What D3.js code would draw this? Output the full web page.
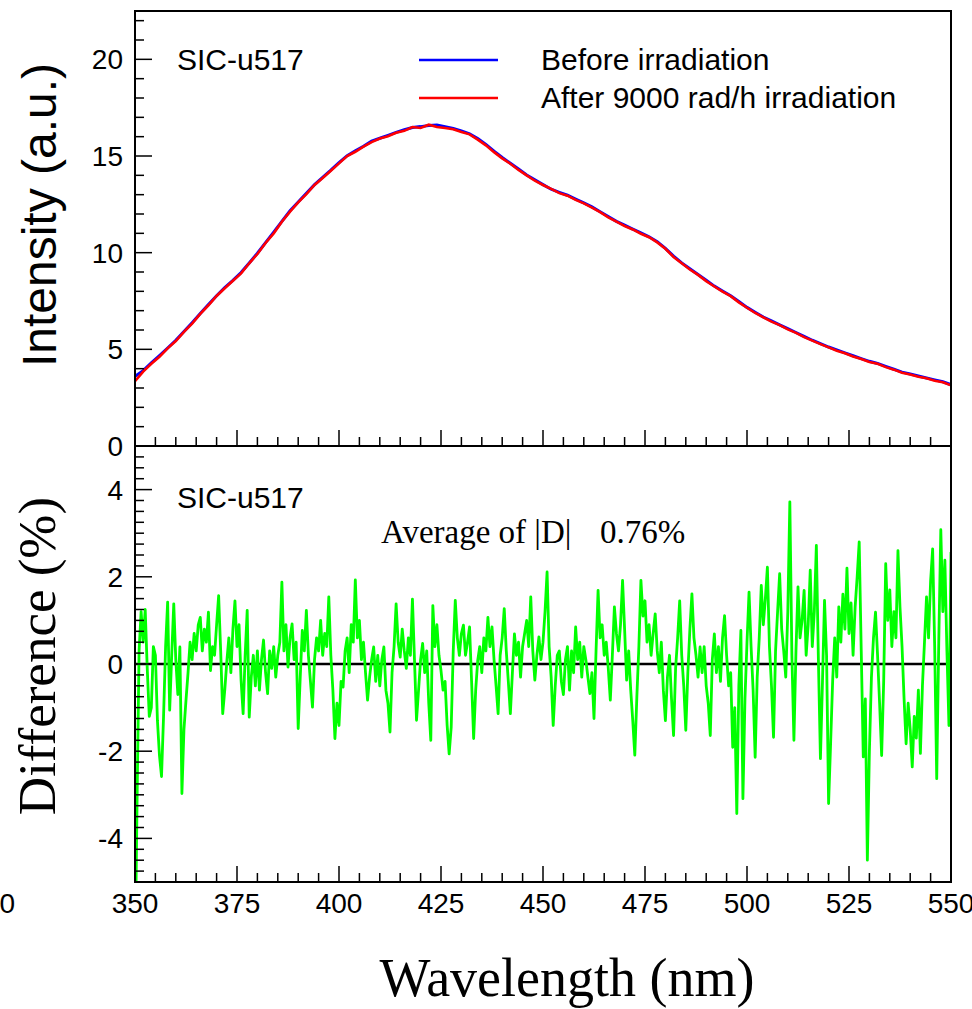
<!DOCTYPE html>
<html>
<head>
<meta charset="utf-8">
<script src="https://cdn.jsdelivr.net/npm/d3@7"></script>
<style>
  body { margin: 0; background: #fff; }
  svg { display: block; }
  .sans { font-family: "Liberation Sans", Arial, sans-serif; }
  .serif { font-family: "Liberation Serif", "Times New Roman", serif; }
</style>
</head>
<body>
<div id="chart"></div>
<script>
// spectra sampled every 2 nm from 350 to 550
const specStart = 350, specStep = 2;
const beforeIrr = [3.6, 3.9, 4.3, 4.68, 5.07, 5.47, 5.92, 6.38, 6.85, 7.32,
  7.77, 8.2, 8.57, 8.97, 9.47, 9.97, 10.52, 11.06, 11.62, 12.17,
  12.62, 13.07, 13.52, 13.9, 14.27, 14.66, 15.02, 15.27, 15.5, 15.77,
  15.92, 16.07, 16.22, 16.36, 16.47, 16.52, 16.58, 16.6, 16.52, 16.42,
  16.3, 16.15, 15.9, 15.6, 15.25, 14.92, 14.62, 14.33, 14.02, 13.77,
  13.52, 13.28, 13.12, 12.97, 12.77, 12.57, 12.37, 12.12, 11.87, 11.62,
  11.42, 11.22, 11.02, 10.82, 10.57, 10.22, 9.82, 9.47, 9.17, 8.87,
  8.57, 8.27, 8.02, 7.77, 7.47, 7.17, 6.92, 6.67, 6.47, 6.27,
  6.07, 5.87, 5.67, 5.47, 5.3, 5.12, 4.97, 4.82, 4.67, 4.52,
  4.38, 4.27, 4.12, 3.97, 3.82, 3.72, 3.62, 3.52, 3.42, 3.32, 3.17];
const afterIrr = [3.35, 3.85, 4.25, 4.62, 5.05, 5.43, 5.9, 6.33, 6.83, 7.28,
  7.76, 8.16, 8.55, 8.93, 9.45, 9.93, 10.5, 11.0, 11.6, 12.12,
  12.6, 13.03, 13.5, 13.86, 14.24, 14.62, 15.0, 15.22, 15.48, 15.72,
  15.9, 16.02, 16.2, 16.3, 16.5, 16.45, 16.62, 16.5, 16.45, 16.38,
  16.24, 16.12, 15.85, 15.55, 15.2, 14.88, 14.6, 14.28, 14.0, 13.72,
  13.5, 13.3, 13.08, 12.95, 12.73, 12.55, 12.33, 12.1, 11.83, 11.6,
  11.38, 11.2, 10.98, 10.8, 10.53, 10.2, 9.78, 9.45, 9.13, 8.85,
  8.53, 8.25, 7.98, 7.75, 7.43, 7.15, 6.88, 6.65, 6.43, 6.25,
  6.03, 5.85, 5.63, 5.45, 5.27, 5.1, 4.93, 4.8, 4.63, 4.5,
  4.35, 4.25, 4.08, 3.95, 3.79, 3.7, 3.58, 3.5, 3.38, 3.3, 3.14];

// relative difference (%) sampled every 0.5 nm from 350 to 550
const diffStart = 350, diffStep = 0.5;
const diffPct = [
  -7.0, -3.2, 0.3, 1.2, 0.5, 1.25, -0.1, -1.2, -1.0, 0.4,
  0.2, -1.3, -2.1, -2.58, -1.2, 0.4, 1.42, -1.06, 0.2, 1.38,
  0.1, -0.7, 0.39, -2.97, -1.5, -0.83, -0.2, 0.5, 0.1, 0.7,
  0.3, 0.9, 1.07, 0.3, 0.8, 0.5, 1.19, -0.15, 0.4, 0.2,
  0.9, 1.57, 0.3, -1.14, -0.6, 0.05, 0.6, -0.2, 0.8, 1.45,
  0.4, 0.9, -0.37, -1.14, 0.2, 1.23, -1.22, -0.3, 0.2, -0.5,
  0.3, -0.6, 0.1, 0.55, -0.2, -0.68, 0.3, -0.1, 0.4, -0.3,
  0.2, 0.5, 1.88, 0.3, 0.9, -0.07, 0.6, 0.92, 0.1, 0.5,
  -1.48, -0.3, 0.77, 0.3, 1.23, 0.2, -0.4, -0.99, 0.1, 0.6,
  0.3, 1.0, 0.2, 0.7, 0.4, 1.54, 0.2, -0.6, -1.71, -0.9,
  -1.41, -0.4, -0.53, 0.3, 0.6, -0.2, 0.9, 0.5, 1.93, 0.6,
  1.0, 0.1, 0.5, -0.2, -0.83, -0.3, 0.1, 0.39, -0.4, 0.2,
  -0.5, 0.1, 0.39, -0.6, -0.9, -1.56, -0.2, 0.4, 1.38, 0.5,
  0.16, 0.8, 0.3, -0.1, 0.6, 0.2, 1.49, 0.1, -1.29, -0.6,
  0.1, 0.47, -0.2, 0.3, -0.9, -1.75, 1.34, 0.4, 0.9, 0.2,
  -0.15, -0.6, -0.4, -1.4, -2.06, -1.45, 0.3, 1.46, 0.6, 0.2,
  0.7, 0.89, 0.2, 0.5, 0.85, -0.4, -1.71, -0.6, 0.08, 0.4,
  -0.2, 0.6, 0.3, 1.07, 0.4, 0.85, 0.1, -0.5, -1.14, 0.2,
  0.6, 1.27, 0.3, -0.4, -1.14, -0.2, 0.69, 0.2, 0.5, -0.3,
  0.4, 0.7, 1.0, 0.4, 1.54, 0.3, -0.37, 0.2, 0.62, 0.1,
  0.5, 1.2, 2.11, 0.4, -0.3, -1.41, -0.5, 0.2, 0.3, -0.4,
  -0.7, 0.1, 0.4, -0.6, 0.3, -0.2, 0.85, 0.1, 0.5, -0.3,
  0.4, 0.1, -0.3, -0.68, -0.2, -1.25, 0.3, 1.69, 0.6, 0.9,
  0.2, 0.5, -0.1, -0.83, 0.2, 1.31, 0.7, 0.3, 0.9, 1.92,
  0.8, -0.37, 0.3, -0.6, -1.3, -2.09, -0.76, 0.4, 1.92, 1.1,
  1.45, 0.5, 0.9, 0.2, 0.7, 1.15, 0.3, -0.2, 0.5, -0.6,
  -1.3, -0.3, 0.2, -0.8, -1.64, -0.1, 0.6, 1.45, 0.2, -0.5,
  -1.52, -0.2, 0.8, 1.61, 0.6, 0.2, -0.3, 0.39, -0.2, 0.4,
  -0.5, -0.9, -1.64, 0.1, 0.69, -0.2, 0.4, -0.4, 0.6, 1.11,
  0.2, -0.5, -0.2, -1.91, -1.0, -3.43, -0.5, 0.77, -3.09, -0.8,
  0.5, 1.65, 0.4, -0.6, -2.14, -0.3, 0.6, 1.8, 0.9, 1.5,
  2.22, 0.4, -0.5, -1.68, 0.3, 1.2, 2.07, 0.8, 0.3, -0.3,
  1.2, 3.72, 0.2, -1.75, 0.3, 1.77, 0.6, 1.0, 1.69, 0.2,
  0.9, 2.15, 0.4, 1.2, 2.72, 0.1, -2.17, -0.4, 1.46, 0.2,
  -3.2, -1.8, -0.37, 0.6, -0.3, 1.31, 0.5, 1.6, 0.8, 2.2,
  0.7, 1.4, 0.2, 1.3, 2.0, 2.8, 0.3, -2.13, -0.8, -4.5,
  -2.0, -0.3, 0.6, 1.19, 0.2, -0.9, -2.1, -0.4, 2.3, 1.0,
  1.7, 0.4, 1.2, 0.6, 2.6, 1.3, 0.4, -0.8, -1.83, -0.9,
  -1.5, -2.36, -1.2, -1.7, -0.6, -2.05, -0.5, 0.5, 1.54, 0.6,
  1.9, 2.64, 0.4, -2.63, 0.5, 3.08, 1.2, 2.38, 0.3, -1.41,
  2.57];

const xTicks = [350, 375, 400, 425, 450, 475, 500, 525, 550];
const topYTicks = [0, 5, 10, 15, 20];
const bottomYTicks = [-4, -2, 0, 2, 4];
const sampleName = "SIC-u517";
const legendItems = [
  { label: "Before irradiation", color: "#0000ff" },
  { label: "After 9000 rad/h irradiation", color: "#ff0000" }
];
const avgText = "Average of |D|";
const avgValue = "0.76%";

const W = 972, H = 1009;
const left = 135, right = 951;
const topPanel = { y0: 11, y1: 446 };
const botPanel = { y0: 446, y1: 882 };

const svg = d3.select("#chart").append("svg")
  .attr("width", W).attr("height", H);

const x = d3.scaleLinear().domain([350, 550]).range([left, right]);
const yTop = d3.scaleLinear().domain([0, 22.5]).range([topPanel.y1, topPanel.y0]);
const yBot = d3.scaleLinear().domain([-5, 5]).range([botPanel.y1, botPanel.y0]);

const defs = svg.append("defs");
defs.append("clipPath").attr("id", "clipTop").append("rect")
  .attr("x", left).attr("y", topPanel.y0)
  .attr("width", right - left).attr("height", topPanel.y1 - topPanel.y0);
defs.append("clipPath").attr("id", "clipBot").append("rect")
  .attr("x", left).attr("y", botPanel.y0)
  .attr("width", right - left).attr("height", botPanel.y1 - botPanel.y0);

// ROOT-like inward ticks
function drawTicks(g, scale, orient, pos, majors, minorStep, majLen, minLen) {
  const dom = scale.domain();
  const minors = d3.range(Math.ceil(dom[0] / minorStep) * minorStep, dom[1] + 1e-9, minorStep);
  minors.forEach(v => {
    const isMajor = majors.some(m => Math.abs(m - v) < 1e-6);
    const len = isMajor ? majLen : minLen;
    const p = scale(v);
    if (orient === "left") {
      g.append("line").attr("x1", pos).attr("x2", pos + len).attr("y1", p).attr("y2", p);
    } else {
      g.append("line").attr("x1", p).attr("x2", p).attr("y1", pos).attr("y2", pos - len);
    }
  });
}

function panelFrame(panel) {
  svg.append("rect")
    .attr("x", left).attr("y", panel.y0)
    .attr("width", right - left).attr("height", panel.y1 - panel.y0)
    .attr("fill", "none").attr("stroke", "#000").attr("stroke-width", 2);
}

const spec = (arr) => arr.map((v, i) => ({ wl: specStart + i * specStep, v }));
const diff = diffPct.map((v, i) => ({ wl: diffStart + i * diffStep, v }));

// ----- top panel -----
const topLine = d3.line().x(d => x(d.wl)).y(d => yTop(d.v));
const topG = svg.append("g").attr("clip-path", "url(#clipTop)");
topG.append("path").datum(spec(beforeIrr))
  .attr("fill", "none").attr("stroke", legendItems[0].color)
  .attr("stroke-width", 3).attr("d", topLine);
topG.append("path").datum(spec(afterIrr))
  .attr("fill", "none").attr("stroke", legendItems[1].color)
  .attr("stroke-width", 2.6).attr("d", topLine);

const tickG = svg.append("g").attr("stroke", "#000").attr("stroke-width", 1.5);
drawTicks(tickG, yTop, "left", left, topYTicks, 1, 17, 9);
drawTicks(tickG, x, "bottom", topPanel.y1, xTicks, 5, 16, 9);
panelFrame(topPanel);

svg.append("g").selectAll("text").data(topYTicks).join("text")
  .attr("class", "sans")
  .attr("x", 123).attr("y", d => yTop(d)).attr("dy", "0.36em")
  .attr("text-anchor", "end").attr("font-size", 28).text(d => d);

svg.append("text").attr("class", "sans")
  .attr("x", 177).attr("y", 70).attr("font-size", 30).text(sampleName);

// legend
legendItems.forEach((item, i) => {
  const ly = 60 + i * 38;
  svg.append("line").attr("x1", 419).attr("x2", 498).attr("y1", ly).attr("y2", ly)
    .attr("stroke", item.color).attr("stroke-width", 2.5);
  svg.append("text").attr("class", "sans")
    .attr("x", 541).attr("y", ly + 10).attr("font-size", 30).text(item.label);
});

svg.append("text").attr("class", "sans")
  .attr("transform", "translate(56, 215) rotate(-90)")
  .attr("text-anchor", "middle").attr("font-size", 48).text("Intensity (a.u.)");

// ----- bottom panel -----
svg.append("line")
  .attr("x1", left).attr("x2", right).attr("y1", yBot(0)).attr("y2", yBot(0))
  .attr("stroke", "#000").attr("stroke-width", 2.5);

const botLine = d3.line().x(d => x(d.wl)).y(d => yBot(d.v));
svg.append("g").attr("clip-path", "url(#clipBot)")
  .append("path").datum(diff)
  .attr("fill", "none").attr("stroke", "#00ff00")
  .attr("stroke-width", 2.8).attr("stroke-linejoin", "round").attr("d", botLine);

const tickG2 = svg.append("g").attr("stroke", "#000").attr("stroke-width", 1.5);
drawTicks(tickG2, yBot, "left", left, bottomYTicks, 0.25, 17, 9);
drawTicks(tickG2, x, "bottom", botPanel.y1, xTicks, 5, 16, 9);
panelFrame(botPanel);

svg.append("g").selectAll("text").data(bottomYTicks).join("text")
  .attr("class", "sans")
  .attr("x", 123).attr("y", d => yBot(d)).attr("dy", "0.36em")
  .attr("text-anchor", "end").attr("font-size", 28).text(d => d);

svg.append("g").selectAll("text").data(xTicks).join("text")
  .attr("class", "sans")
  .attr("x", d => x(d)).attr("y", 913)
  .attr("text-anchor", "middle").attr("font-size", 28).text(d => d);

// stray label at the left edge
svg.append("text").attr("class", "sans")
  .attr("x", 15).attr("y", 913).attr("text-anchor", "end")
  .attr("font-size", 28).text("0");

svg.append("text").attr("class", "sans")
  .attr("x", 177).attr("y", 508).attr("font-size", 30).text(sampleName);

svg.append("text").attr("class", "serif")
  .attr("x", 381).attr("y", 543).attr("font-size", 33).text(avgText);
svg.append("text").attr("class", "serif")
  .attr("x", 600).attr("y", 543).attr("font-size", 33).text(avgValue);

svg.append("text").attr("class", "serif")
  .attr("transform", `translate(55, ${(botPanel.y0 + botPanel.y1) / 2 - 8}) rotate(-90)`)
  .attr("text-anchor", "middle").attr("font-size", 53).text("Difference (%)");

svg.append("text").attr("class", "serif")
  .attr("x", 567).attr("y", 996).attr("text-anchor", "middle")
  .attr("font-size", 54).text("Wavelength (nm)");
</script>
</body>
</html>
